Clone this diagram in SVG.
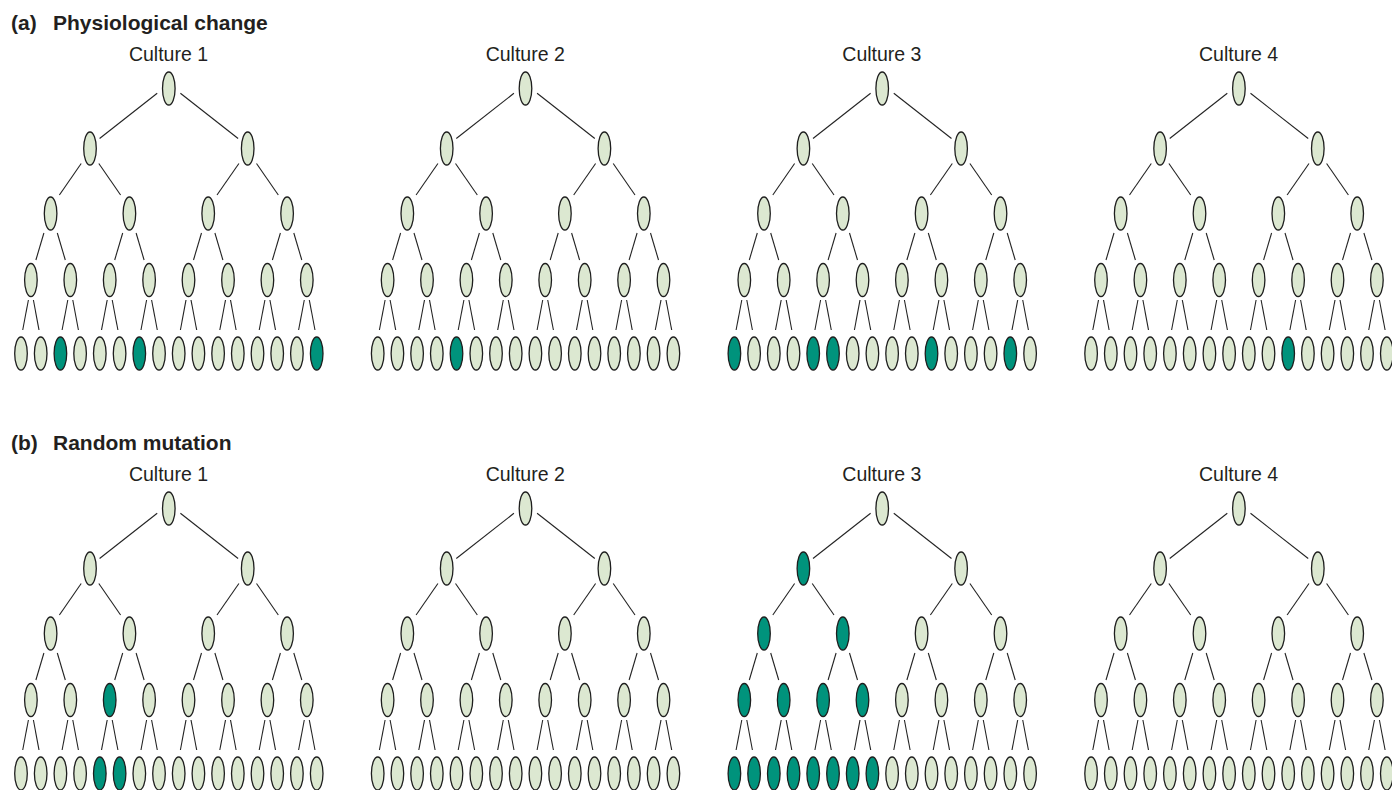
<svg xmlns="http://www.w3.org/2000/svg" width="1392" height="790" viewBox="0 0 1392 790">
<style>
ellipse{stroke:#1e1e1e;stroke-width:1.3}
.l{fill:#dce8d1}
.d{fill:#00937c}
.e line{stroke:#222;stroke-width:1.1}
.t{font-family:"Liberation Sans",Arial,sans-serif;font-weight:bold;font-size:21px;fill:#231f20}
.c{font-family:"Liberation Sans",Arial,sans-serif;font-size:19.5px;fill:#231f20;text-anchor:middle}
</style>
<rect width="1392" height="790" fill="#fff"/>
<g id="titles">
<text class="t" x="11" y="30">(a)<tspan x="53">Physiological change</tspan></text>
<text class="t" x="11" y="449.5">(b)<tspan x="53">Random mutation</tspan></text>
</g>
<g id="labels">
<text class="c" x="168.5" y="61">Culture 1</text>
<text class="c" x="525.2" y="61">Culture 2</text>
<text class="c" x="881.9" y="61">Culture 3</text>
<text class="c" x="1238.6" y="61">Culture 4</text>
<text class="c" x="168.5" y="481">Culture 1</text>
<text class="c" x="525.2" y="481">Culture 2</text>
<text class="c" x="881.9" y="481">Culture 3</text>
<text class="c" x="1238.6" y="481">Culture 4</text>
</g>
<g id="connectors" class="e">
<g id="a1-edges">
<line x1="157.2" y1="93.3" x2="99.6" y2="138.5"/><line x1="180.4" y1="93.3" x2="238.1" y2="138.5"/>
<line x1="81.2" y1="163.5" x2="59.4" y2="195"/><line x1="98.8" y1="163.5" x2="120.6" y2="195"/>
<line x1="238.9" y1="163.5" x2="217.0" y2="195"/><line x1="256.5" y1="163.5" x2="278.3" y2="195"/>
<line x1="43.9" y1="233" x2="35.9" y2="260"/><line x1="57.3" y1="233" x2="65.3" y2="260"/>
<line x1="122.7" y1="233" x2="114.7" y2="260"/><line x1="136.1" y1="233" x2="144.1" y2="260"/>
<line x1="201.5" y1="233" x2="193.5" y2="260"/><line x1="214.9" y1="233" x2="222.9" y2="260"/>
<line x1="280.4" y1="233" x2="272.4" y2="260"/><line x1="293.8" y1="233" x2="301.8" y2="260"/>
<line x1="28.4" y1="300" x2="22.7" y2="330"/><line x1="33.4" y1="300" x2="39.0" y2="330"/>
<line x1="67.8" y1="300" x2="62.1" y2="330"/><line x1="72.8" y1="300" x2="78.4" y2="330"/>
<line x1="107.2" y1="300" x2="101.5" y2="330"/><line x1="112.2" y1="300" x2="117.9" y2="330"/>
<line x1="146.6" y1="300" x2="141.0" y2="330"/><line x1="151.6" y1="300" x2="157.3" y2="330"/>
<line x1="186.0" y1="300" x2="180.4" y2="330"/><line x1="191.0" y1="300" x2="196.7" y2="330"/>
<line x1="225.5" y1="300" x2="219.8" y2="330"/><line x1="230.5" y1="300" x2="236.1" y2="330"/>
<line x1="264.9" y1="300" x2="259.2" y2="330"/><line x1="269.9" y1="300" x2="275.5" y2="330"/>
<line x1="304.3" y1="300" x2="298.6" y2="330"/><line x1="309.3" y1="300" x2="315.0" y2="330"/>
</g>
<g id="a2-edges" transform="translate(356.7,0)">
<line x1="157.2" y1="93.3" x2="99.6" y2="138.5"/><line x1="180.4" y1="93.3" x2="238.1" y2="138.5"/>
<line x1="81.2" y1="163.5" x2="59.4" y2="195"/><line x1="98.8" y1="163.5" x2="120.6" y2="195"/>
<line x1="238.9" y1="163.5" x2="217.0" y2="195"/><line x1="256.5" y1="163.5" x2="278.3" y2="195"/>
<line x1="43.9" y1="233" x2="35.9" y2="260"/><line x1="57.3" y1="233" x2="65.3" y2="260"/>
<line x1="122.7" y1="233" x2="114.7" y2="260"/><line x1="136.1" y1="233" x2="144.1" y2="260"/>
<line x1="201.5" y1="233" x2="193.5" y2="260"/><line x1="214.9" y1="233" x2="222.9" y2="260"/>
<line x1="280.4" y1="233" x2="272.4" y2="260"/><line x1="293.8" y1="233" x2="301.8" y2="260"/>
<line x1="28.4" y1="300" x2="22.7" y2="330"/><line x1="33.4" y1="300" x2="39.0" y2="330"/>
<line x1="67.8" y1="300" x2="62.1" y2="330"/><line x1="72.8" y1="300" x2="78.4" y2="330"/>
<line x1="107.2" y1="300" x2="101.5" y2="330"/><line x1="112.2" y1="300" x2="117.9" y2="330"/>
<line x1="146.6" y1="300" x2="141.0" y2="330"/><line x1="151.6" y1="300" x2="157.3" y2="330"/>
<line x1="186.0" y1="300" x2="180.4" y2="330"/><line x1="191.0" y1="300" x2="196.7" y2="330"/>
<line x1="225.5" y1="300" x2="219.8" y2="330"/><line x1="230.5" y1="300" x2="236.1" y2="330"/>
<line x1="264.9" y1="300" x2="259.2" y2="330"/><line x1="269.9" y1="300" x2="275.5" y2="330"/>
<line x1="304.3" y1="300" x2="298.6" y2="330"/><line x1="309.3" y1="300" x2="315.0" y2="330"/>
</g>
<g id="a3-edges" transform="translate(713.4,0)">
<line x1="157.2" y1="93.3" x2="99.6" y2="138.5"/><line x1="180.4" y1="93.3" x2="238.1" y2="138.5"/>
<line x1="81.2" y1="163.5" x2="59.4" y2="195"/><line x1="98.8" y1="163.5" x2="120.6" y2="195"/>
<line x1="238.9" y1="163.5" x2="217.0" y2="195"/><line x1="256.5" y1="163.5" x2="278.3" y2="195"/>
<line x1="43.9" y1="233" x2="35.9" y2="260"/><line x1="57.3" y1="233" x2="65.3" y2="260"/>
<line x1="122.7" y1="233" x2="114.7" y2="260"/><line x1="136.1" y1="233" x2="144.1" y2="260"/>
<line x1="201.5" y1="233" x2="193.5" y2="260"/><line x1="214.9" y1="233" x2="222.9" y2="260"/>
<line x1="280.4" y1="233" x2="272.4" y2="260"/><line x1="293.8" y1="233" x2="301.8" y2="260"/>
<line x1="28.4" y1="300" x2="22.7" y2="330"/><line x1="33.4" y1="300" x2="39.0" y2="330"/>
<line x1="67.8" y1="300" x2="62.1" y2="330"/><line x1="72.8" y1="300" x2="78.4" y2="330"/>
<line x1="107.2" y1="300" x2="101.5" y2="330"/><line x1="112.2" y1="300" x2="117.9" y2="330"/>
<line x1="146.6" y1="300" x2="141.0" y2="330"/><line x1="151.6" y1="300" x2="157.3" y2="330"/>
<line x1="186.0" y1="300" x2="180.4" y2="330"/><line x1="191.0" y1="300" x2="196.7" y2="330"/>
<line x1="225.5" y1="300" x2="219.8" y2="330"/><line x1="230.5" y1="300" x2="236.1" y2="330"/>
<line x1="264.9" y1="300" x2="259.2" y2="330"/><line x1="269.9" y1="300" x2="275.5" y2="330"/>
<line x1="304.3" y1="300" x2="298.6" y2="330"/><line x1="309.3" y1="300" x2="315.0" y2="330"/>
</g>
<g id="a4-edges" transform="translate(1070.1,0)">
<line x1="157.2" y1="93.3" x2="99.6" y2="138.5"/><line x1="180.4" y1="93.3" x2="238.1" y2="138.5"/>
<line x1="81.2" y1="163.5" x2="59.4" y2="195"/><line x1="98.8" y1="163.5" x2="120.6" y2="195"/>
<line x1="238.9" y1="163.5" x2="217.0" y2="195"/><line x1="256.5" y1="163.5" x2="278.3" y2="195"/>
<line x1="43.9" y1="233" x2="35.9" y2="260"/><line x1="57.3" y1="233" x2="65.3" y2="260"/>
<line x1="122.7" y1="233" x2="114.7" y2="260"/><line x1="136.1" y1="233" x2="144.1" y2="260"/>
<line x1="201.5" y1="233" x2="193.5" y2="260"/><line x1="214.9" y1="233" x2="222.9" y2="260"/>
<line x1="280.4" y1="233" x2="272.4" y2="260"/><line x1="293.8" y1="233" x2="301.8" y2="260"/>
<line x1="28.4" y1="300" x2="22.7" y2="330"/><line x1="33.4" y1="300" x2="39.0" y2="330"/>
<line x1="67.8" y1="300" x2="62.1" y2="330"/><line x1="72.8" y1="300" x2="78.4" y2="330"/>
<line x1="107.2" y1="300" x2="101.5" y2="330"/><line x1="112.2" y1="300" x2="117.9" y2="330"/>
<line x1="146.6" y1="300" x2="141.0" y2="330"/><line x1="151.6" y1="300" x2="157.3" y2="330"/>
<line x1="186.0" y1="300" x2="180.4" y2="330"/><line x1="191.0" y1="300" x2="196.7" y2="330"/>
<line x1="225.5" y1="300" x2="219.8" y2="330"/><line x1="230.5" y1="300" x2="236.1" y2="330"/>
<line x1="264.9" y1="300" x2="259.2" y2="330"/><line x1="269.9" y1="300" x2="275.5" y2="330"/>
<line x1="304.3" y1="300" x2="298.6" y2="330"/><line x1="309.3" y1="300" x2="315.0" y2="330"/>
</g>
<g id="b1-edges" transform="translate(0,420)">
<line x1="157.2" y1="93.3" x2="99.6" y2="138.5"/><line x1="180.4" y1="93.3" x2="238.1" y2="138.5"/>
<line x1="81.2" y1="163.5" x2="59.4" y2="195"/><line x1="98.8" y1="163.5" x2="120.6" y2="195"/>
<line x1="238.9" y1="163.5" x2="217.0" y2="195"/><line x1="256.5" y1="163.5" x2="278.3" y2="195"/>
<line x1="43.9" y1="233" x2="35.9" y2="260"/><line x1="57.3" y1="233" x2="65.3" y2="260"/>
<line x1="122.7" y1="233" x2="114.7" y2="260"/><line x1="136.1" y1="233" x2="144.1" y2="260"/>
<line x1="201.5" y1="233" x2="193.5" y2="260"/><line x1="214.9" y1="233" x2="222.9" y2="260"/>
<line x1="280.4" y1="233" x2="272.4" y2="260"/><line x1="293.8" y1="233" x2="301.8" y2="260"/>
<line x1="28.4" y1="300" x2="22.7" y2="330"/><line x1="33.4" y1="300" x2="39.0" y2="330"/>
<line x1="67.8" y1="300" x2="62.1" y2="330"/><line x1="72.8" y1="300" x2="78.4" y2="330"/>
<line x1="107.2" y1="300" x2="101.5" y2="330"/><line x1="112.2" y1="300" x2="117.9" y2="330"/>
<line x1="146.6" y1="300" x2="141.0" y2="330"/><line x1="151.6" y1="300" x2="157.3" y2="330"/>
<line x1="186.0" y1="300" x2="180.4" y2="330"/><line x1="191.0" y1="300" x2="196.7" y2="330"/>
<line x1="225.5" y1="300" x2="219.8" y2="330"/><line x1="230.5" y1="300" x2="236.1" y2="330"/>
<line x1="264.9" y1="300" x2="259.2" y2="330"/><line x1="269.9" y1="300" x2="275.5" y2="330"/>
<line x1="304.3" y1="300" x2="298.6" y2="330"/><line x1="309.3" y1="300" x2="315.0" y2="330"/>
</g>
<g id="b2-edges" transform="translate(356.7,420)">
<line x1="157.2" y1="93.3" x2="99.6" y2="138.5"/><line x1="180.4" y1="93.3" x2="238.1" y2="138.5"/>
<line x1="81.2" y1="163.5" x2="59.4" y2="195"/><line x1="98.8" y1="163.5" x2="120.6" y2="195"/>
<line x1="238.9" y1="163.5" x2="217.0" y2="195"/><line x1="256.5" y1="163.5" x2="278.3" y2="195"/>
<line x1="43.9" y1="233" x2="35.9" y2="260"/><line x1="57.3" y1="233" x2="65.3" y2="260"/>
<line x1="122.7" y1="233" x2="114.7" y2="260"/><line x1="136.1" y1="233" x2="144.1" y2="260"/>
<line x1="201.5" y1="233" x2="193.5" y2="260"/><line x1="214.9" y1="233" x2="222.9" y2="260"/>
<line x1="280.4" y1="233" x2="272.4" y2="260"/><line x1="293.8" y1="233" x2="301.8" y2="260"/>
<line x1="28.4" y1="300" x2="22.7" y2="330"/><line x1="33.4" y1="300" x2="39.0" y2="330"/>
<line x1="67.8" y1="300" x2="62.1" y2="330"/><line x1="72.8" y1="300" x2="78.4" y2="330"/>
<line x1="107.2" y1="300" x2="101.5" y2="330"/><line x1="112.2" y1="300" x2="117.9" y2="330"/>
<line x1="146.6" y1="300" x2="141.0" y2="330"/><line x1="151.6" y1="300" x2="157.3" y2="330"/>
<line x1="186.0" y1="300" x2="180.4" y2="330"/><line x1="191.0" y1="300" x2="196.7" y2="330"/>
<line x1="225.5" y1="300" x2="219.8" y2="330"/><line x1="230.5" y1="300" x2="236.1" y2="330"/>
<line x1="264.9" y1="300" x2="259.2" y2="330"/><line x1="269.9" y1="300" x2="275.5" y2="330"/>
<line x1="304.3" y1="300" x2="298.6" y2="330"/><line x1="309.3" y1="300" x2="315.0" y2="330"/>
</g>
<g id="b3-edges" transform="translate(713.4,420)">
<line x1="157.2" y1="93.3" x2="99.6" y2="138.5"/><line x1="180.4" y1="93.3" x2="238.1" y2="138.5"/>
<line x1="81.2" y1="163.5" x2="59.4" y2="195"/><line x1="98.8" y1="163.5" x2="120.6" y2="195"/>
<line x1="238.9" y1="163.5" x2="217.0" y2="195"/><line x1="256.5" y1="163.5" x2="278.3" y2="195"/>
<line x1="43.9" y1="233" x2="35.9" y2="260"/><line x1="57.3" y1="233" x2="65.3" y2="260"/>
<line x1="122.7" y1="233" x2="114.7" y2="260"/><line x1="136.1" y1="233" x2="144.1" y2="260"/>
<line x1="201.5" y1="233" x2="193.5" y2="260"/><line x1="214.9" y1="233" x2="222.9" y2="260"/>
<line x1="280.4" y1="233" x2="272.4" y2="260"/><line x1="293.8" y1="233" x2="301.8" y2="260"/>
<line x1="28.4" y1="300" x2="22.7" y2="330"/><line x1="33.4" y1="300" x2="39.0" y2="330"/>
<line x1="67.8" y1="300" x2="62.1" y2="330"/><line x1="72.8" y1="300" x2="78.4" y2="330"/>
<line x1="107.2" y1="300" x2="101.5" y2="330"/><line x1="112.2" y1="300" x2="117.9" y2="330"/>
<line x1="146.6" y1="300" x2="141.0" y2="330"/><line x1="151.6" y1="300" x2="157.3" y2="330"/>
<line x1="186.0" y1="300" x2="180.4" y2="330"/><line x1="191.0" y1="300" x2="196.7" y2="330"/>
<line x1="225.5" y1="300" x2="219.8" y2="330"/><line x1="230.5" y1="300" x2="236.1" y2="330"/>
<line x1="264.9" y1="300" x2="259.2" y2="330"/><line x1="269.9" y1="300" x2="275.5" y2="330"/>
<line x1="304.3" y1="300" x2="298.6" y2="330"/><line x1="309.3" y1="300" x2="315.0" y2="330"/>
</g>
<g id="b4-edges" transform="translate(1070.1,420)">
<line x1="157.2" y1="93.3" x2="99.6" y2="138.5"/><line x1="180.4" y1="93.3" x2="238.1" y2="138.5"/>
<line x1="81.2" y1="163.5" x2="59.4" y2="195"/><line x1="98.8" y1="163.5" x2="120.6" y2="195"/>
<line x1="238.9" y1="163.5" x2="217.0" y2="195"/><line x1="256.5" y1="163.5" x2="278.3" y2="195"/>
<line x1="43.9" y1="233" x2="35.9" y2="260"/><line x1="57.3" y1="233" x2="65.3" y2="260"/>
<line x1="122.7" y1="233" x2="114.7" y2="260"/><line x1="136.1" y1="233" x2="144.1" y2="260"/>
<line x1="201.5" y1="233" x2="193.5" y2="260"/><line x1="214.9" y1="233" x2="222.9" y2="260"/>
<line x1="280.4" y1="233" x2="272.4" y2="260"/><line x1="293.8" y1="233" x2="301.8" y2="260"/>
<line x1="28.4" y1="300" x2="22.7" y2="330"/><line x1="33.4" y1="300" x2="39.0" y2="330"/>
<line x1="67.8" y1="300" x2="62.1" y2="330"/><line x1="72.8" y1="300" x2="78.4" y2="330"/>
<line x1="107.2" y1="300" x2="101.5" y2="330"/><line x1="112.2" y1="300" x2="117.9" y2="330"/>
<line x1="146.6" y1="300" x2="141.0" y2="330"/><line x1="151.6" y1="300" x2="157.3" y2="330"/>
<line x1="186.0" y1="300" x2="180.4" y2="330"/><line x1="191.0" y1="300" x2="196.7" y2="330"/>
<line x1="225.5" y1="300" x2="219.8" y2="330"/><line x1="230.5" y1="300" x2="236.1" y2="330"/>
<line x1="264.9" y1="300" x2="259.2" y2="330"/><line x1="269.9" y1="300" x2="275.5" y2="330"/>
<line x1="304.3" y1="300" x2="298.6" y2="330"/><line x1="309.3" y1="300" x2="315.0" y2="330"/>
</g>
</g>
<g id="tree-a1">
<g id="a1-n1"><ellipse class="l" cx="168.8" cy="88.5" rx="6.3" ry="16.5"/></g>
<g id="a1-n2"><ellipse class="l" cx="90.0" cy="148.5" rx="6.3" ry="16.5"/></g>
<g id="a1-n3"><ellipse class="l" cx="247.7" cy="148.5" rx="6.3" ry="16.5"/></g>
<g id="a1-n4"><ellipse class="l" cx="50.6" cy="213.5" rx="6.3" ry="16.5"/></g>
<g id="a1-n5"><ellipse class="l" cx="129.4" cy="213.5" rx="6.3" ry="16.5"/></g>
<g id="a1-n6"><ellipse class="l" cx="208.2" cy="213.5" rx="6.3" ry="16.5"/></g>
<g id="a1-n7"><ellipse class="l" cx="287.1" cy="213.5" rx="6.3" ry="16.5"/></g>
<g id="a1-n8"><ellipse class="l" cx="30.9" cy="280" rx="6.3" ry="16.5"/></g>
<g id="a1-n9"><ellipse class="l" cx="70.3" cy="280" rx="6.3" ry="16.5"/></g>
<g id="a1-n10"><ellipse class="l" cx="109.7" cy="280" rx="6.3" ry="16.5"/></g>
<g id="a1-n11"><ellipse class="l" cx="149.1" cy="280" rx="6.3" ry="16.5"/></g>
<g id="a1-n12"><ellipse class="l" cx="188.5" cy="280" rx="6.3" ry="16.5"/></g>
<g id="a1-n13"><ellipse class="l" cx="228.0" cy="280" rx="6.3" ry="16.5"/></g>
<g id="a1-n14"><ellipse class="l" cx="267.4" cy="280" rx="6.3" ry="16.5"/></g>
<g id="a1-n15"><ellipse class="l" cx="306.8" cy="280" rx="6.3" ry="16.5"/></g>
<g id="a1-n16"><ellipse class="l" cx="21.0" cy="353.5" rx="6.3" ry="16.5"/></g>
<g id="a1-n17"><ellipse class="l" cx="40.7" cy="353.5" rx="6.3" ry="16.5"/></g>
<g id="a1-n18"><ellipse class="d" cx="60.4" cy="353.5" rx="6.3" ry="16.5"/></g>
<g id="a1-n19"><ellipse class="l" cx="80.1" cy="353.5" rx="6.3" ry="16.5"/></g>
<g id="a1-n20"><ellipse class="l" cx="99.8" cy="353.5" rx="6.3" ry="16.5"/></g>
<g id="a1-n21"><ellipse class="l" cx="119.6" cy="353.5" rx="6.3" ry="16.5"/></g>
<g id="a1-n22"><ellipse class="d" cx="139.3" cy="353.5" rx="6.3" ry="16.5"/></g>
<g id="a1-n23"><ellipse class="l" cx="159.0" cy="353.5" rx="6.3" ry="16.5"/></g>
<g id="a1-n24"><ellipse class="l" cx="178.7" cy="353.5" rx="6.3" ry="16.5"/></g>
<g id="a1-n25"><ellipse class="l" cx="198.4" cy="353.5" rx="6.3" ry="16.5"/></g>
<g id="a1-n26"><ellipse class="l" cx="218.1" cy="353.5" rx="6.3" ry="16.5"/></g>
<g id="a1-n27"><ellipse class="l" cx="237.8" cy="353.5" rx="6.3" ry="16.5"/></g>
<g id="a1-n28"><ellipse class="l" cx="257.5" cy="353.5" rx="6.3" ry="16.5"/></g>
<g id="a1-n29"><ellipse class="l" cx="277.2" cy="353.5" rx="6.3" ry="16.5"/></g>
<g id="a1-n30"><ellipse class="l" cx="296.9" cy="353.5" rx="6.3" ry="16.5"/></g>
<g id="a1-n31"><ellipse class="d" cx="316.7" cy="353.5" rx="6.3" ry="16.5"/></g>
</g>
<g id="tree-a2" transform="translate(356.7,0)">
<g id="a2-n1"><ellipse class="l" cx="168.8" cy="88.5" rx="6.3" ry="16.5"/></g>
<g id="a2-n2"><ellipse class="l" cx="90.0" cy="148.5" rx="6.3" ry="16.5"/></g>
<g id="a2-n3"><ellipse class="l" cx="247.7" cy="148.5" rx="6.3" ry="16.5"/></g>
<g id="a2-n4"><ellipse class="l" cx="50.6" cy="213.5" rx="6.3" ry="16.5"/></g>
<g id="a2-n5"><ellipse class="l" cx="129.4" cy="213.5" rx="6.3" ry="16.5"/></g>
<g id="a2-n6"><ellipse class="l" cx="208.2" cy="213.5" rx="6.3" ry="16.5"/></g>
<g id="a2-n7"><ellipse class="l" cx="287.1" cy="213.5" rx="6.3" ry="16.5"/></g>
<g id="a2-n8"><ellipse class="l" cx="30.9" cy="280" rx="6.3" ry="16.5"/></g>
<g id="a2-n9"><ellipse class="l" cx="70.3" cy="280" rx="6.3" ry="16.5"/></g>
<g id="a2-n10"><ellipse class="l" cx="109.7" cy="280" rx="6.3" ry="16.5"/></g>
<g id="a2-n11"><ellipse class="l" cx="149.1" cy="280" rx="6.3" ry="16.5"/></g>
<g id="a2-n12"><ellipse class="l" cx="188.5" cy="280" rx="6.3" ry="16.5"/></g>
<g id="a2-n13"><ellipse class="l" cx="228.0" cy="280" rx="6.3" ry="16.5"/></g>
<g id="a2-n14"><ellipse class="l" cx="267.4" cy="280" rx="6.3" ry="16.5"/></g>
<g id="a2-n15"><ellipse class="l" cx="306.8" cy="280" rx="6.3" ry="16.5"/></g>
<g id="a2-n16"><ellipse class="l" cx="21.0" cy="353.5" rx="6.3" ry="16.5"/></g>
<g id="a2-n17"><ellipse class="l" cx="40.7" cy="353.5" rx="6.3" ry="16.5"/></g>
<g id="a2-n18"><ellipse class="l" cx="60.4" cy="353.5" rx="6.3" ry="16.5"/></g>
<g id="a2-n19"><ellipse class="l" cx="80.1" cy="353.5" rx="6.3" ry="16.5"/></g>
<g id="a2-n20"><ellipse class="d" cx="99.8" cy="353.5" rx="6.3" ry="16.5"/></g>
<g id="a2-n21"><ellipse class="l" cx="119.6" cy="353.5" rx="6.3" ry="16.5"/></g>
<g id="a2-n22"><ellipse class="l" cx="139.3" cy="353.5" rx="6.3" ry="16.5"/></g>
<g id="a2-n23"><ellipse class="l" cx="159.0" cy="353.5" rx="6.3" ry="16.5"/></g>
<g id="a2-n24"><ellipse class="l" cx="178.7" cy="353.5" rx="6.3" ry="16.5"/></g>
<g id="a2-n25"><ellipse class="l" cx="198.4" cy="353.5" rx="6.3" ry="16.5"/></g>
<g id="a2-n26"><ellipse class="l" cx="218.1" cy="353.5" rx="6.3" ry="16.5"/></g>
<g id="a2-n27"><ellipse class="l" cx="237.8" cy="353.5" rx="6.3" ry="16.5"/></g>
<g id="a2-n28"><ellipse class="l" cx="257.5" cy="353.5" rx="6.3" ry="16.5"/></g>
<g id="a2-n29"><ellipse class="l" cx="277.2" cy="353.5" rx="6.3" ry="16.5"/></g>
<g id="a2-n30"><ellipse class="l" cx="296.9" cy="353.5" rx="6.3" ry="16.5"/></g>
<g id="a2-n31"><ellipse class="l" cx="316.7" cy="353.5" rx="6.3" ry="16.5"/></g>
</g>
<g id="tree-a3" transform="translate(713.4,0)">
<g id="a3-n1"><ellipse class="l" cx="168.8" cy="88.5" rx="6.3" ry="16.5"/></g>
<g id="a3-n2"><ellipse class="l" cx="90.0" cy="148.5" rx="6.3" ry="16.5"/></g>
<g id="a3-n3"><ellipse class="l" cx="247.7" cy="148.5" rx="6.3" ry="16.5"/></g>
<g id="a3-n4"><ellipse class="l" cx="50.6" cy="213.5" rx="6.3" ry="16.5"/></g>
<g id="a3-n5"><ellipse class="l" cx="129.4" cy="213.5" rx="6.3" ry="16.5"/></g>
<g id="a3-n6"><ellipse class="l" cx="208.2" cy="213.5" rx="6.3" ry="16.5"/></g>
<g id="a3-n7"><ellipse class="l" cx="287.1" cy="213.5" rx="6.3" ry="16.5"/></g>
<g id="a3-n8"><ellipse class="l" cx="30.9" cy="280" rx="6.3" ry="16.5"/></g>
<g id="a3-n9"><ellipse class="l" cx="70.3" cy="280" rx="6.3" ry="16.5"/></g>
<g id="a3-n10"><ellipse class="l" cx="109.7" cy="280" rx="6.3" ry="16.5"/></g>
<g id="a3-n11"><ellipse class="l" cx="149.1" cy="280" rx="6.3" ry="16.5"/></g>
<g id="a3-n12"><ellipse class="l" cx="188.5" cy="280" rx="6.3" ry="16.5"/></g>
<g id="a3-n13"><ellipse class="l" cx="228.0" cy="280" rx="6.3" ry="16.5"/></g>
<g id="a3-n14"><ellipse class="l" cx="267.4" cy="280" rx="6.3" ry="16.5"/></g>
<g id="a3-n15"><ellipse class="l" cx="306.8" cy="280" rx="6.3" ry="16.5"/></g>
<g id="a3-n16"><ellipse class="d" cx="21.0" cy="353.5" rx="6.3" ry="16.5"/></g>
<g id="a3-n17"><ellipse class="l" cx="40.7" cy="353.5" rx="6.3" ry="16.5"/></g>
<g id="a3-n18"><ellipse class="l" cx="60.4" cy="353.5" rx="6.3" ry="16.5"/></g>
<g id="a3-n19"><ellipse class="l" cx="80.1" cy="353.5" rx="6.3" ry="16.5"/></g>
<g id="a3-n20"><ellipse class="d" cx="99.8" cy="353.5" rx="6.3" ry="16.5"/></g>
<g id="a3-n21"><ellipse class="d" cx="119.6" cy="353.5" rx="6.3" ry="16.5"/></g>
<g id="a3-n22"><ellipse class="l" cx="139.3" cy="353.5" rx="6.3" ry="16.5"/></g>
<g id="a3-n23"><ellipse class="l" cx="159.0" cy="353.5" rx="6.3" ry="16.5"/></g>
<g id="a3-n24"><ellipse class="l" cx="178.7" cy="353.5" rx="6.3" ry="16.5"/></g>
<g id="a3-n25"><ellipse class="l" cx="198.4" cy="353.5" rx="6.3" ry="16.5"/></g>
<g id="a3-n26"><ellipse class="d" cx="218.1" cy="353.5" rx="6.3" ry="16.5"/></g>
<g id="a3-n27"><ellipse class="l" cx="237.8" cy="353.5" rx="6.3" ry="16.5"/></g>
<g id="a3-n28"><ellipse class="l" cx="257.5" cy="353.5" rx="6.3" ry="16.5"/></g>
<g id="a3-n29"><ellipse class="l" cx="277.2" cy="353.5" rx="6.3" ry="16.5"/></g>
<g id="a3-n30"><ellipse class="d" cx="296.9" cy="353.5" rx="6.3" ry="16.5"/></g>
<g id="a3-n31"><ellipse class="l" cx="316.7" cy="353.5" rx="6.3" ry="16.5"/></g>
</g>
<g id="tree-a4" transform="translate(1070.1,0)">
<g id="a4-n1"><ellipse class="l" cx="168.8" cy="88.5" rx="6.3" ry="16.5"/></g>
<g id="a4-n2"><ellipse class="l" cx="90.0" cy="148.5" rx="6.3" ry="16.5"/></g>
<g id="a4-n3"><ellipse class="l" cx="247.7" cy="148.5" rx="6.3" ry="16.5"/></g>
<g id="a4-n4"><ellipse class="l" cx="50.6" cy="213.5" rx="6.3" ry="16.5"/></g>
<g id="a4-n5"><ellipse class="l" cx="129.4" cy="213.5" rx="6.3" ry="16.5"/></g>
<g id="a4-n6"><ellipse class="l" cx="208.2" cy="213.5" rx="6.3" ry="16.5"/></g>
<g id="a4-n7"><ellipse class="l" cx="287.1" cy="213.5" rx="6.3" ry="16.5"/></g>
<g id="a4-n8"><ellipse class="l" cx="30.9" cy="280" rx="6.3" ry="16.5"/></g>
<g id="a4-n9"><ellipse class="l" cx="70.3" cy="280" rx="6.3" ry="16.5"/></g>
<g id="a4-n10"><ellipse class="l" cx="109.7" cy="280" rx="6.3" ry="16.5"/></g>
<g id="a4-n11"><ellipse class="l" cx="149.1" cy="280" rx="6.3" ry="16.5"/></g>
<g id="a4-n12"><ellipse class="l" cx="188.5" cy="280" rx="6.3" ry="16.5"/></g>
<g id="a4-n13"><ellipse class="l" cx="228.0" cy="280" rx="6.3" ry="16.5"/></g>
<g id="a4-n14"><ellipse class="l" cx="267.4" cy="280" rx="6.3" ry="16.5"/></g>
<g id="a4-n15"><ellipse class="l" cx="306.8" cy="280" rx="6.3" ry="16.5"/></g>
<g id="a4-n16"><ellipse class="l" cx="21.0" cy="353.5" rx="6.3" ry="16.5"/></g>
<g id="a4-n17"><ellipse class="l" cx="40.7" cy="353.5" rx="6.3" ry="16.5"/></g>
<g id="a4-n18"><ellipse class="l" cx="60.4" cy="353.5" rx="6.3" ry="16.5"/></g>
<g id="a4-n19"><ellipse class="l" cx="80.1" cy="353.5" rx="6.3" ry="16.5"/></g>
<g id="a4-n20"><ellipse class="l" cx="99.8" cy="353.5" rx="6.3" ry="16.5"/></g>
<g id="a4-n21"><ellipse class="l" cx="119.6" cy="353.5" rx="6.3" ry="16.5"/></g>
<g id="a4-n22"><ellipse class="l" cx="139.3" cy="353.5" rx="6.3" ry="16.5"/></g>
<g id="a4-n23"><ellipse class="l" cx="159.0" cy="353.5" rx="6.3" ry="16.5"/></g>
<g id="a4-n24"><ellipse class="l" cx="178.7" cy="353.5" rx="6.3" ry="16.5"/></g>
<g id="a4-n25"><ellipse class="l" cx="198.4" cy="353.5" rx="6.3" ry="16.5"/></g>
<g id="a4-n26"><ellipse class="d" cx="218.1" cy="353.5" rx="6.3" ry="16.5"/></g>
<g id="a4-n27"><ellipse class="l" cx="237.8" cy="353.5" rx="6.3" ry="16.5"/></g>
<g id="a4-n28"><ellipse class="l" cx="257.5" cy="353.5" rx="6.3" ry="16.5"/></g>
<g id="a4-n29"><ellipse class="l" cx="277.2" cy="353.5" rx="6.3" ry="16.5"/></g>
<g id="a4-n30"><ellipse class="l" cx="296.9" cy="353.5" rx="6.3" ry="16.5"/></g>
<g id="a4-n31"><ellipse class="l" cx="316.7" cy="353.5" rx="6.3" ry="16.5"/></g>
</g>
<g id="tree-b1" transform="translate(0,420)">
<g id="b1-n1"><ellipse class="l" cx="168.8" cy="88.5" rx="6.3" ry="16.5"/></g>
<g id="b1-n2"><ellipse class="l" cx="90.0" cy="148.5" rx="6.3" ry="16.5"/></g>
<g id="b1-n3"><ellipse class="l" cx="247.7" cy="148.5" rx="6.3" ry="16.5"/></g>
<g id="b1-n4"><ellipse class="l" cx="50.6" cy="213.5" rx="6.3" ry="16.5"/></g>
<g id="b1-n5"><ellipse class="l" cx="129.4" cy="213.5" rx="6.3" ry="16.5"/></g>
<g id="b1-n6"><ellipse class="l" cx="208.2" cy="213.5" rx="6.3" ry="16.5"/></g>
<g id="b1-n7"><ellipse class="l" cx="287.1" cy="213.5" rx="6.3" ry="16.5"/></g>
<g id="b1-n8"><ellipse class="l" cx="30.9" cy="280" rx="6.3" ry="16.5"/></g>
<g id="b1-n9"><ellipse class="l" cx="70.3" cy="280" rx="6.3" ry="16.5"/></g>
<g id="b1-n10"><ellipse class="d" cx="109.7" cy="280" rx="6.3" ry="16.5"/></g>
<g id="b1-n11"><ellipse class="l" cx="149.1" cy="280" rx="6.3" ry="16.5"/></g>
<g id="b1-n12"><ellipse class="l" cx="188.5" cy="280" rx="6.3" ry="16.5"/></g>
<g id="b1-n13"><ellipse class="l" cx="228.0" cy="280" rx="6.3" ry="16.5"/></g>
<g id="b1-n14"><ellipse class="l" cx="267.4" cy="280" rx="6.3" ry="16.5"/></g>
<g id="b1-n15"><ellipse class="l" cx="306.8" cy="280" rx="6.3" ry="16.5"/></g>
<g id="b1-n16"><ellipse class="l" cx="21.0" cy="353.5" rx="6.3" ry="16.5"/></g>
<g id="b1-n17"><ellipse class="l" cx="40.7" cy="353.5" rx="6.3" ry="16.5"/></g>
<g id="b1-n18"><ellipse class="l" cx="60.4" cy="353.5" rx="6.3" ry="16.5"/></g>
<g id="b1-n19"><ellipse class="l" cx="80.1" cy="353.5" rx="6.3" ry="16.5"/></g>
<g id="b1-n20"><ellipse class="d" cx="99.8" cy="353.5" rx="6.3" ry="16.5"/></g>
<g id="b1-n21"><ellipse class="d" cx="119.6" cy="353.5" rx="6.3" ry="16.5"/></g>
<g id="b1-n22"><ellipse class="l" cx="139.3" cy="353.5" rx="6.3" ry="16.5"/></g>
<g id="b1-n23"><ellipse class="l" cx="159.0" cy="353.5" rx="6.3" ry="16.5"/></g>
<g id="b1-n24"><ellipse class="l" cx="178.7" cy="353.5" rx="6.3" ry="16.5"/></g>
<g id="b1-n25"><ellipse class="l" cx="198.4" cy="353.5" rx="6.3" ry="16.5"/></g>
<g id="b1-n26"><ellipse class="l" cx="218.1" cy="353.5" rx="6.3" ry="16.5"/></g>
<g id="b1-n27"><ellipse class="l" cx="237.8" cy="353.5" rx="6.3" ry="16.5"/></g>
<g id="b1-n28"><ellipse class="l" cx="257.5" cy="353.5" rx="6.3" ry="16.5"/></g>
<g id="b1-n29"><ellipse class="l" cx="277.2" cy="353.5" rx="6.3" ry="16.5"/></g>
<g id="b1-n30"><ellipse class="l" cx="296.9" cy="353.5" rx="6.3" ry="16.5"/></g>
<g id="b1-n31"><ellipse class="l" cx="316.7" cy="353.5" rx="6.3" ry="16.5"/></g>
</g>
<g id="tree-b2" transform="translate(356.7,420)">
<g id="b2-n1"><ellipse class="l" cx="168.8" cy="88.5" rx="6.3" ry="16.5"/></g>
<g id="b2-n2"><ellipse class="l" cx="90.0" cy="148.5" rx="6.3" ry="16.5"/></g>
<g id="b2-n3"><ellipse class="l" cx="247.7" cy="148.5" rx="6.3" ry="16.5"/></g>
<g id="b2-n4"><ellipse class="l" cx="50.6" cy="213.5" rx="6.3" ry="16.5"/></g>
<g id="b2-n5"><ellipse class="l" cx="129.4" cy="213.5" rx="6.3" ry="16.5"/></g>
<g id="b2-n6"><ellipse class="l" cx="208.2" cy="213.5" rx="6.3" ry="16.5"/></g>
<g id="b2-n7"><ellipse class="l" cx="287.1" cy="213.5" rx="6.3" ry="16.5"/></g>
<g id="b2-n8"><ellipse class="l" cx="30.9" cy="280" rx="6.3" ry="16.5"/></g>
<g id="b2-n9"><ellipse class="l" cx="70.3" cy="280" rx="6.3" ry="16.5"/></g>
<g id="b2-n10"><ellipse class="l" cx="109.7" cy="280" rx="6.3" ry="16.5"/></g>
<g id="b2-n11"><ellipse class="l" cx="149.1" cy="280" rx="6.3" ry="16.5"/></g>
<g id="b2-n12"><ellipse class="l" cx="188.5" cy="280" rx="6.3" ry="16.5"/></g>
<g id="b2-n13"><ellipse class="l" cx="228.0" cy="280" rx="6.3" ry="16.5"/></g>
<g id="b2-n14"><ellipse class="l" cx="267.4" cy="280" rx="6.3" ry="16.5"/></g>
<g id="b2-n15"><ellipse class="l" cx="306.8" cy="280" rx="6.3" ry="16.5"/></g>
<g id="b2-n16"><ellipse class="l" cx="21.0" cy="353.5" rx="6.3" ry="16.5"/></g>
<g id="b2-n17"><ellipse class="l" cx="40.7" cy="353.5" rx="6.3" ry="16.5"/></g>
<g id="b2-n18"><ellipse class="l" cx="60.4" cy="353.5" rx="6.3" ry="16.5"/></g>
<g id="b2-n19"><ellipse class="l" cx="80.1" cy="353.5" rx="6.3" ry="16.5"/></g>
<g id="b2-n20"><ellipse class="l" cx="99.8" cy="353.5" rx="6.3" ry="16.5"/></g>
<g id="b2-n21"><ellipse class="l" cx="119.6" cy="353.5" rx="6.3" ry="16.5"/></g>
<g id="b2-n22"><ellipse class="l" cx="139.3" cy="353.5" rx="6.3" ry="16.5"/></g>
<g id="b2-n23"><ellipse class="l" cx="159.0" cy="353.5" rx="6.3" ry="16.5"/></g>
<g id="b2-n24"><ellipse class="l" cx="178.7" cy="353.5" rx="6.3" ry="16.5"/></g>
<g id="b2-n25"><ellipse class="l" cx="198.4" cy="353.5" rx="6.3" ry="16.5"/></g>
<g id="b2-n26"><ellipse class="l" cx="218.1" cy="353.5" rx="6.3" ry="16.5"/></g>
<g id="b2-n27"><ellipse class="l" cx="237.8" cy="353.5" rx="6.3" ry="16.5"/></g>
<g id="b2-n28"><ellipse class="l" cx="257.5" cy="353.5" rx="6.3" ry="16.5"/></g>
<g id="b2-n29"><ellipse class="l" cx="277.2" cy="353.5" rx="6.3" ry="16.5"/></g>
<g id="b2-n30"><ellipse class="l" cx="296.9" cy="353.5" rx="6.3" ry="16.5"/></g>
<g id="b2-n31"><ellipse class="l" cx="316.7" cy="353.5" rx="6.3" ry="16.5"/></g>
</g>
<g id="tree-b3" transform="translate(713.4,420)">
<g id="b3-n1"><ellipse class="l" cx="168.8" cy="88.5" rx="6.3" ry="16.5"/></g>
<g id="b3-n2"><ellipse class="d" cx="90.0" cy="148.5" rx="6.3" ry="16.5"/></g>
<g id="b3-n3"><ellipse class="l" cx="247.7" cy="148.5" rx="6.3" ry="16.5"/></g>
<g id="b3-n4"><ellipse class="d" cx="50.6" cy="213.5" rx="6.3" ry="16.5"/></g>
<g id="b3-n5"><ellipse class="d" cx="129.4" cy="213.5" rx="6.3" ry="16.5"/></g>
<g id="b3-n6"><ellipse class="l" cx="208.2" cy="213.5" rx="6.3" ry="16.5"/></g>
<g id="b3-n7"><ellipse class="l" cx="287.1" cy="213.5" rx="6.3" ry="16.5"/></g>
<g id="b3-n8"><ellipse class="d" cx="30.9" cy="280" rx="6.3" ry="16.5"/></g>
<g id="b3-n9"><ellipse class="d" cx="70.3" cy="280" rx="6.3" ry="16.5"/></g>
<g id="b3-n10"><ellipse class="d" cx="109.7" cy="280" rx="6.3" ry="16.5"/></g>
<g id="b3-n11"><ellipse class="d" cx="149.1" cy="280" rx="6.3" ry="16.5"/></g>
<g id="b3-n12"><ellipse class="l" cx="188.5" cy="280" rx="6.3" ry="16.5"/></g>
<g id="b3-n13"><ellipse class="l" cx="228.0" cy="280" rx="6.3" ry="16.5"/></g>
<g id="b3-n14"><ellipse class="l" cx="267.4" cy="280" rx="6.3" ry="16.5"/></g>
<g id="b3-n15"><ellipse class="l" cx="306.8" cy="280" rx="6.3" ry="16.5"/></g>
<g id="b3-n16"><ellipse class="d" cx="21.0" cy="353.5" rx="6.3" ry="16.5"/></g>
<g id="b3-n17"><ellipse class="d" cx="40.7" cy="353.5" rx="6.3" ry="16.5"/></g>
<g id="b3-n18"><ellipse class="d" cx="60.4" cy="353.5" rx="6.3" ry="16.5"/></g>
<g id="b3-n19"><ellipse class="d" cx="80.1" cy="353.5" rx="6.3" ry="16.5"/></g>
<g id="b3-n20"><ellipse class="d" cx="99.8" cy="353.5" rx="6.3" ry="16.5"/></g>
<g id="b3-n21"><ellipse class="d" cx="119.6" cy="353.5" rx="6.3" ry="16.5"/></g>
<g id="b3-n22"><ellipse class="d" cx="139.3" cy="353.5" rx="6.3" ry="16.5"/></g>
<g id="b3-n23"><ellipse class="d" cx="159.0" cy="353.5" rx="6.3" ry="16.5"/></g>
<g id="b3-n24"><ellipse class="l" cx="178.7" cy="353.5" rx="6.3" ry="16.5"/></g>
<g id="b3-n25"><ellipse class="l" cx="198.4" cy="353.5" rx="6.3" ry="16.5"/></g>
<g id="b3-n26"><ellipse class="l" cx="218.1" cy="353.5" rx="6.3" ry="16.5"/></g>
<g id="b3-n27"><ellipse class="l" cx="237.8" cy="353.5" rx="6.3" ry="16.5"/></g>
<g id="b3-n28"><ellipse class="l" cx="257.5" cy="353.5" rx="6.3" ry="16.5"/></g>
<g id="b3-n29"><ellipse class="l" cx="277.2" cy="353.5" rx="6.3" ry="16.5"/></g>
<g id="b3-n30"><ellipse class="l" cx="296.9" cy="353.5" rx="6.3" ry="16.5"/></g>
<g id="b3-n31"><ellipse class="l" cx="316.7" cy="353.5" rx="6.3" ry="16.5"/></g>
</g>
<g id="tree-b4" transform="translate(1070.1,420)">
<g id="b4-n1"><ellipse class="l" cx="168.8" cy="88.5" rx="6.3" ry="16.5"/></g>
<g id="b4-n2"><ellipse class="l" cx="90.0" cy="148.5" rx="6.3" ry="16.5"/></g>
<g id="b4-n3"><ellipse class="l" cx="247.7" cy="148.5" rx="6.3" ry="16.5"/></g>
<g id="b4-n4"><ellipse class="l" cx="50.6" cy="213.5" rx="6.3" ry="16.5"/></g>
<g id="b4-n5"><ellipse class="l" cx="129.4" cy="213.5" rx="6.3" ry="16.5"/></g>
<g id="b4-n6"><ellipse class="l" cx="208.2" cy="213.5" rx="6.3" ry="16.5"/></g>
<g id="b4-n7"><ellipse class="l" cx="287.1" cy="213.5" rx="6.3" ry="16.5"/></g>
<g id="b4-n8"><ellipse class="l" cx="30.9" cy="280" rx="6.3" ry="16.5"/></g>
<g id="b4-n9"><ellipse class="l" cx="70.3" cy="280" rx="6.3" ry="16.5"/></g>
<g id="b4-n10"><ellipse class="l" cx="109.7" cy="280" rx="6.3" ry="16.5"/></g>
<g id="b4-n11"><ellipse class="l" cx="149.1" cy="280" rx="6.3" ry="16.5"/></g>
<g id="b4-n12"><ellipse class="l" cx="188.5" cy="280" rx="6.3" ry="16.5"/></g>
<g id="b4-n13"><ellipse class="l" cx="228.0" cy="280" rx="6.3" ry="16.5"/></g>
<g id="b4-n14"><ellipse class="l" cx="267.4" cy="280" rx="6.3" ry="16.5"/></g>
<g id="b4-n15"><ellipse class="l" cx="306.8" cy="280" rx="6.3" ry="16.5"/></g>
<g id="b4-n16"><ellipse class="l" cx="21.0" cy="353.5" rx="6.3" ry="16.5"/></g>
<g id="b4-n17"><ellipse class="l" cx="40.7" cy="353.5" rx="6.3" ry="16.5"/></g>
<g id="b4-n18"><ellipse class="l" cx="60.4" cy="353.5" rx="6.3" ry="16.5"/></g>
<g id="b4-n19"><ellipse class="l" cx="80.1" cy="353.5" rx="6.3" ry="16.5"/></g>
<g id="b4-n20"><ellipse class="l" cx="99.8" cy="353.5" rx="6.3" ry="16.5"/></g>
<g id="b4-n21"><ellipse class="l" cx="119.6" cy="353.5" rx="6.3" ry="16.5"/></g>
<g id="b4-n22"><ellipse class="l" cx="139.3" cy="353.5" rx="6.3" ry="16.5"/></g>
<g id="b4-n23"><ellipse class="l" cx="159.0" cy="353.5" rx="6.3" ry="16.5"/></g>
<g id="b4-n24"><ellipse class="l" cx="178.7" cy="353.5" rx="6.3" ry="16.5"/></g>
<g id="b4-n25"><ellipse class="l" cx="198.4" cy="353.5" rx="6.3" ry="16.5"/></g>
<g id="b4-n26"><ellipse class="l" cx="218.1" cy="353.5" rx="6.3" ry="16.5"/></g>
<g id="b4-n27"><ellipse class="l" cx="237.8" cy="353.5" rx="6.3" ry="16.5"/></g>
<g id="b4-n28"><ellipse class="l" cx="257.5" cy="353.5" rx="6.3" ry="16.5"/></g>
<g id="b4-n29"><ellipse class="l" cx="277.2" cy="353.5" rx="6.3" ry="16.5"/></g>
<g id="b4-n30"><ellipse class="l" cx="296.9" cy="353.5" rx="6.3" ry="16.5"/></g>
<g id="b4-n31"><ellipse class="l" cx="316.7" cy="353.5" rx="6.3" ry="16.5"/></g>
</g>
</svg>
